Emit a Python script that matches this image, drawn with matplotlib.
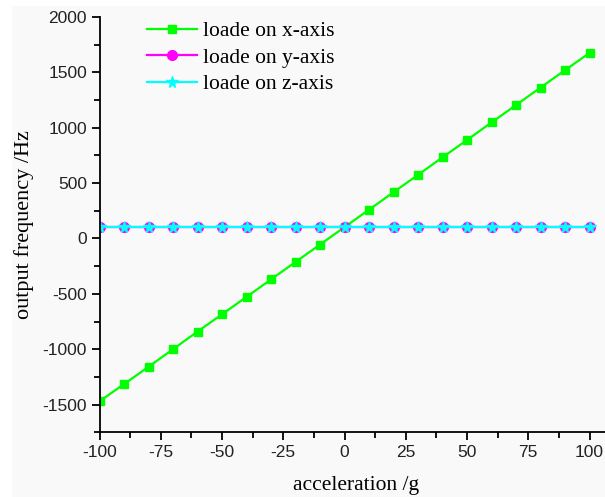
import numpy as np
import matplotlib
matplotlib.use("Agg")
import matplotlib.pyplot as plt
from matplotlib.patches import Rectangle
from matplotlib.ticker import MultipleLocator

# acceleration steps (g) and measured output frequency (Hz)
accel = [-100, -90, -80, -70, -60, -50, -40, -30, -20, -10, 0,
         10, 20, 30, 40, 50, 60, 70, 80, 90, 100]
freq_x = [-1470, -1315, -1158, -1000, -840, -685, -527, -370, -212, -55, 103,
          260, 418, 575, 733, 890, 1048, 1205, 1363, 1520, 1676]
freq_y = [103, 103, 103, 103, 103, 103, 103, 103, 103, 103, 103,
          103, 103, 103, 103, 103, 103, 103, 103, 103, 103]
freq_z = [101, 101, 101, 101, 101, 101, 101, 101, 101, 101, 101,
          101, 101, 101, 101, 101, 101, 101, 101, 101, 101]

serif = ["Liberation Serif", "DejaVu Serif"]
sans = ["Liberation Sans", "DejaVu Sans"]
plt.rcParams["axes.unicode_minus"] = False

fig = plt.figure(figsize=(6.05, 4.97), dpi=100)
fig.patch.set_facecolor("white")
fig.patches.append(Rectangle((12 / 605, 0), 1, 1 - 6 / 497, transform=fig.transFigure,
                             facecolor="#f9f9f9", edgecolor="none", zorder=-10))

ax = fig.add_axes([99.5 / 605, 1 - 432.3 / 497, 1 - 99.5 / 605, (432.3 - 17) / 497])
ax.set_facecolor("none")

ax.plot(accel, freq_x, color="#00ff00", lw=1.6, marker="s", ms=6.3, label="loade on x-axis")
ax.plot(accel, freq_y, color="#ff00ff", lw=1.6, marker="o", ms=7, label="loade on y-axis")
ax.plot(accel, freq_z, color="#00ffff", lw=1.6, marker="*", ms=8.5, label="loade on z-axis")

ax.set_xlim(-100, 106.3)
ax.set_ylim(-1750, 2000)
ax.xaxis.set_minor_locator(MultipleLocator(12.5))
ax.yaxis.set_minor_locator(MultipleLocator(250))
ax.set_xticks(range(-100, 101, 25))
ax.set_yticks(range(-1500, 2001, 500))

for s in ["top", "right"]:
    ax.spines[s].set_visible(False)
for s in ["left", "bottom"]:
    ax.spines[s].set_linewidth(1.3)

ax.tick_params(which="major", direction="out", length=6, width=1.3, labelsize=12.5, pad=3)
ax.tick_params(which="minor", direction="out", length=4, width=1.3)
for lab in ax.get_xticklabels() + ax.get_yticklabels():
    lab.set_family(sans)
    lab.set_color("#222222")

ax.set_xlabel("acceleration /g", family=serif, fontsize=15.5)
ax.xaxis.set_label_coords(0.508, -0.105)
ax.set_ylabel("output frequency /Hz", family=serif, fontsize=16, labelpad=6)

ax.legend(loc="upper left", bbox_to_anchor=(0.056, 1.037), frameon=False,
          prop={"family": serif, "size": 15.5}, handlelength=2.3, handletextpad=0.3,
          labelspacing=0.3)

fig.savefig("out.png", dpi=100)
